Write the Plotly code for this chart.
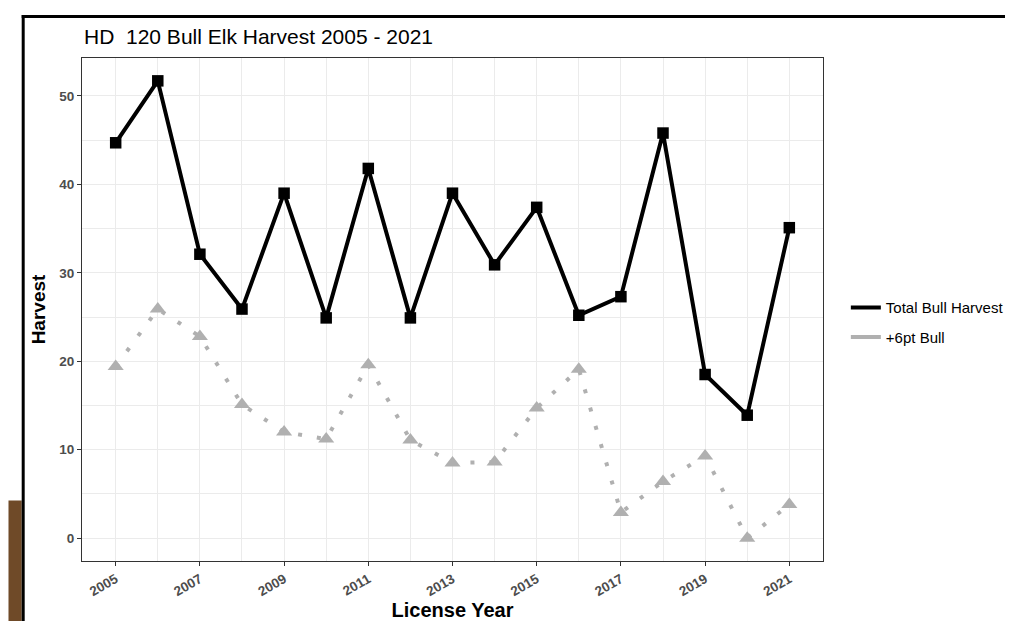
import plotly.graph_objects as go

years = list(range(2005, 2022))
total_bull = [44.7, 51.7, 32.1, 25.9, 39.0, 24.9, 41.8, 24.9, 39.0, 30.9, 37.4, 25.2, 27.3, 45.8, 18.5, 13.9, 35.1]
six_pt_bull = [19.4, 25.9, 22.8, 15.1, 12.0, 11.2, 19.6, 11.1, 8.5, 8.6, 14.7, 19.1, 2.9, 6.4, 9.3, 0.0, 3.8]
x_ticks = list(range(2005, 2022, 2))
y_ticks = [0, 10, 20, 30, 40, 50]
series_names = ["Total Bull Harvest", "+6pt Bull"]

W, H = 1013, 621
L, R, T, B = 74, 820, 50, 558
pw, ph = R - L, B - T

def px(x):
    return (x - L) / pw

def py(y):
    return (B - y) / ph

BLACK = "#000000"
GRAY = "#B0B0B0"
FONT = "Liberation Sans, Arial, sans-serif"

fig = go.Figure()

fig.add_trace(go.Scatter(
    x=years, y=six_pt_bull, mode="lines+markers", showlegend=False,
    line=dict(color=GRAY, width=4, dash="4px,15px"),
    marker=dict(symbol="triangle-up", size=14, color=GRAY),
))
fig.add_trace(go.Scatter(
    x=years, y=total_bull, mode="lines+markers", showlegend=False,
    line=dict(color=BLACK, width=4),
    marker=dict(symbol="square", size=11.5, color=BLACK),
))
# legend entries (line keys only)
fig.add_trace(go.Scatter(x=[None], y=[None], mode="lines", name=series_names[0],
                         legendgroup="a", line=dict(color=BLACK, width=4)))
fig.add_trace(go.Scatter(x=[None], y=[None], mode="lines", name=series_names[1],
                         legendgroup="b", line=dict(color=GRAY, width=4)))

ymin, ymax = min(min(total_bull), min(six_pt_bull)), max(max(total_bull), max(six_pt_bull))
yspan = ymax - ymin
xspan = years[-1] - years[0]

axis_common = dict(
    showline=True, linecolor="#333333", linewidth=1.2, mirror=True,
    ticks="outside", ticklen=4, tickcolor="#333333", tickwidth=1,
    gridcolor="#EBEBEB", gridwidth=1, zeroline=False,
    tickfont=dict(family=FONT, size=13.5, color="#4D4D4D", weight="bold"),
)

fig.update_xaxes(
    range=[years[0] - 0.05 * xspan, years[-1] + 0.05 * xspan],
    tickvals=x_ticks, ticktext=[str(v) for v in x_ticks], tickangle=-30,
    minor=dict(dtick=1, tick0=2005, showgrid=True, gridcolor="#EBEBEB", gridwidth=0.8),
    title=dict(text="License Year", font=dict(family=FONT, size=20, color="#000000", weight="bold"), standoff=4),
    **axis_common,
)
fig.update_yaxes(
    range=[ymin - 0.05 * yspan, ymax + 0.05 * yspan],
    tickvals=y_ticks,
    minor=dict(dtick=5, tick0=0, showgrid=True, gridcolor="#EBEBEB", gridwidth=0.8),
    title=dict(text="Harvest", font=dict(family=FONT, size=19, color="#000000", weight="bold"), standoff=8),
    **axis_common,
)

shapes = [
    # brown slide block bottom-left
    dict(type="rect", xref="paper", yref="paper", x0=px(0), x1=px(13.3), y0=py(621), y1=py(497),
         fillcolor="#6F4A28", line=dict(width=0), layer="above"),
    # slide frame left
    dict(type="line", xref="paper", yref="paper", x0=px(14.8), x1=px(14.8), y0=py(6.5), y1=py(621),
         line=dict(color="#000000", width=3)),
    # slide frame top
    dict(type="line", xref="paper", yref="paper", x0=px(13.3), x1=px(1013), y0=py(8), y1=py(8),
         line=dict(color="#000000", width=3)),
]

fig.update_layout(
    width=W, height=H,
    margin=dict(l=L, r=W - R, t=T, b=H - B),
    paper_bgcolor="white", plot_bgcolor="white",
    shapes=shapes,
    annotations=[dict(text="HD  120 Bull Elk Harvest 2005 - 2021", xref="paper", yref="paper",
                      x=px(74), y=py(28), xanchor="left", yanchor="middle", showarrow=False,
                      font=dict(family=FONT, size=21, color="#000000"))],
    legend=dict(x=px(843), y=py(317), xanchor="left", yanchor="middle",
                font=dict(family=FONT, size=15, color="#000000"),
                tracegroupgap=7, bgcolor="rgba(0,0,0,0)"),
    font=dict(family=FONT),
)

fig.write_html("out.html")
